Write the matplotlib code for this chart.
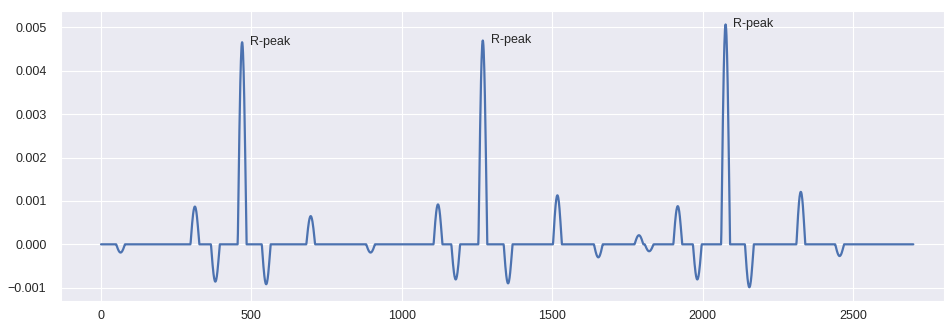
import numpy as np
import matplotlib.pyplot as plt
import seaborn as sns

# wave centres (sample index) and amplitudes
wave_centers = [65, 312, 380, 469, 549, 697,
                896, 1120, 1179, 1269, 1353, 1517, 1653,
                1788, 1822, 1917, 1982, 2076, 2155, 2326, 2455]
wave_amps = [-0.00019, 0.00087, -0.00086, 0.00466, -0.00092, 0.00065,
             -0.00019, 0.00092, -0.00081, 0.00470, -0.00090, 0.00113, -0.00030,
             0.00021, -0.00016, 0.00088, -0.00081, 0.00507, -0.00099, 0.00121, -0.00027]
wave_width = 29
n_samples = 2701

r_peaks = [469, 1269, 2076]
r_values = [0.00466, 0.00470, 0.00507]

sns.set_style('darkgrid')
plt.rcParams['font.family'] = ['Liberation Sans', 'DejaVu Sans']

t = np.arange(n_samples)
sig = np.zeros(n_samples)
for c, a in zip(wave_centers, wave_amps):
    m = np.abs(t - c) <= wave_width / 2
    sig[m] += a * np.cos(np.pi * (t[m] - c) / wave_width)

fig = plt.figure(figsize=(9.45, 3.22), dpi=100)
ax = fig.add_axes([61/945, 21.3/322, 883/945, 289.7/322])
ax.plot(t, sig, color='#4C72B0', linewidth=1.6)

for px, py in zip(r_peaks, r_values):
    ax.text(px + 26, py, 'R-peak', va='center', fontsize=9, color='.15')

ax.set_xlim(-133, 2802)
ax.set_ylim(-0.0013, 0.00538)
ax.set_xticks([0, 500, 1000, 1500, 2000, 2500])
ax.set_yticks([-0.001, 0, 0.001, 0.002, 0.003, 0.004, 0.005])
ax.set_yticklabels(['\u22120.001', '0.000', '0.001', '0.002', '0.003', '0.004', '0.005'])
ax.tick_params(axis='x', labelsize=9, pad=3.5, colors='.15')
ax.tick_params(axis='y', labelsize=9, pad=7, colors='.15')

fig.savefig('out.png', dpi=100)
